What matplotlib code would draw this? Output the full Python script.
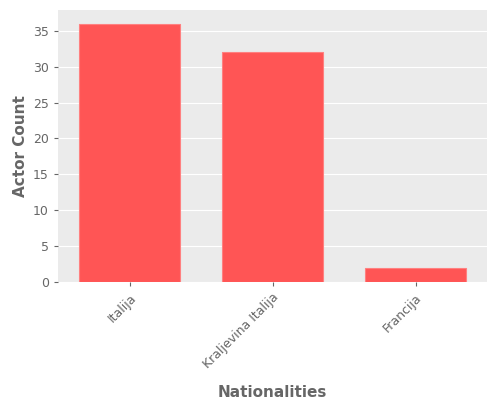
import matplotlib
matplotlib.use("Agg")
import matplotlib.pyplot as plt

categories = ["Italija", "Kraljevina Italija", "Francija"]
counts = [36, 32, 2]

fig = plt.figure(figsize=(5, 4), dpi=100)
ax = fig.add_axes([0.116, 0.295, 0.858, 0.68])
ax.set_facecolor("#EBEBEB")
ax.bar(range(len(categories)), counts, width=0.7, color="#FF5555", edgecolor="#FF8080", linewidth=0.8, zorder=3)
ax.set_xlim(-0.5, 2.5)
ax.set_ylim(0, 37.9)
ax.set_yticks([0, 5, 10, 15, 20, 25, 30, 35])
ax.grid(axis="y", color="white", linewidth=0.8, zorder=0)
ax.set_xticks(range(len(categories)))
ax.set_xticklabels(categories, rotation=45, ha="right", rotation_mode="anchor", color="#666666", fontsize=9)
ax.tick_params(axis="y", colors="#666666", labelsize=9, length=3)
ax.tick_params(axis="x", length=3, colors="#666666")
for s in ax.spines.values():
    s.set_visible(False)
ax.set_xlabel("Nationalities", color="#666666", fontsize=11, fontweight="bold", labelpad=10)
ax.set_ylabel("Actor Count", color="#666666", fontsize=11, fontweight="bold")
fig.savefig("out.png", dpi=100)
